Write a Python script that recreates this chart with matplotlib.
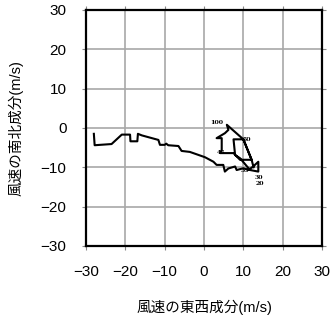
import matplotlib
matplotlib.use('Agg')
import matplotlib.pyplot as plt

plt.rcParams['font.family'] = ['Liberation Sans', 'Noto Sans CJK JP']

# Wind components (m/s) along the hodograph
u = [-28.0, -27.8, -23.5, -20.9, -18.8, -18.7, -16.95, -16.8, -15.8, -11.6,
     -11.2, -10.0, -9.6, -9.1, -6.5, -5.7, -3.6, 0.25, 2.4, 3.2,
     4.9, 5.3, 6.2, 7.9, 8.3, 10.0, 11.3, 12.5, 13.8, 13.8,
     11.7, 9.15, 7.9, 7.5, 10.0, 5.8, 6.2, 5.3, 3.2, 4.5,
     4.5, 4.1, 7.5, 9.15, 12.1, 10.0, 12.1, 12.6]
v = [-1.5, -4.4, -4.1, -1.7, -1.7, -3.4, -3.4, -1.5, -1.9, -3.05,
     -4.3, -4.3, -4.0, -4.4, -4.6, -5.85, -6.1, -7.45, -8.6, -9.4,
     -9.4, -11.1, -10.3, -9.8, -10.7, -10.25, -10.7, -9.8, -8.6, -11.1,
     -10.7, -7.7, -6.9, -2.9, -2.9, 0.8, -0.5, -1.35, -2.6, -2.6,
     -5.6, -6.4, -6.4, -8.1, -8.1, -2.9, -8.1, -10.0]

# height labels along the curve
lab_text = ['100', '50', '45', '35', '30', '20']
lab_u = [3.2, 10.9, 4.3, 10.3, 13.9, 14.2]
lab_v = [1.4, -2.9, -6.3, -10.7, -12.7, -14.2]

fig = plt.figure(figsize=(3.32, 3.19), dpi=100)
ax = fig.add_axes([0.259, 0.229, 0.711, 0.740])

ax.plot(u, v, color='black', linewidth=1.5)
for t, x, y in zip(lab_text, lab_u, lab_v):
    ax.text(x, y, t, fontsize=4.5, ha='center', va='center',
            family='DejaVu Serif', fontweight='bold')

ax.set_xlim(-30, 30)
ax.set_ylim(-30, 30)
ticks = [-30, -20, -10, 0, 10, 20, 30]
tick_labels = ['\u221230', '\u221220', '\u221210', '0', '10', '20', '30']
ax.set_xticks(ticks)
ax.set_yticks(ticks)
ax.set_xticklabels(tick_labels)
ax.set_yticklabels(tick_labels)
ax.grid(True, color='#a8a8a8', linewidth=1.2)
ax.set_axisbelow(True)
ax.tick_params(direction='out', length=3, width=0.8, color='#888888',
               top=True, right=True, labelsize=11, pad=11)
for s in ax.spines.values():
    s.set_linewidth(1.6)
    s.set_color('black')

ax.set_xlabel('風速の東西成分(m/s)', fontsize=10.5, labelpad=15)
ax.set_ylabel('風速の南北成分(m/s)', fontsize=10.5, labelpad=12)

plt.savefig('out.png', dpi=100)
